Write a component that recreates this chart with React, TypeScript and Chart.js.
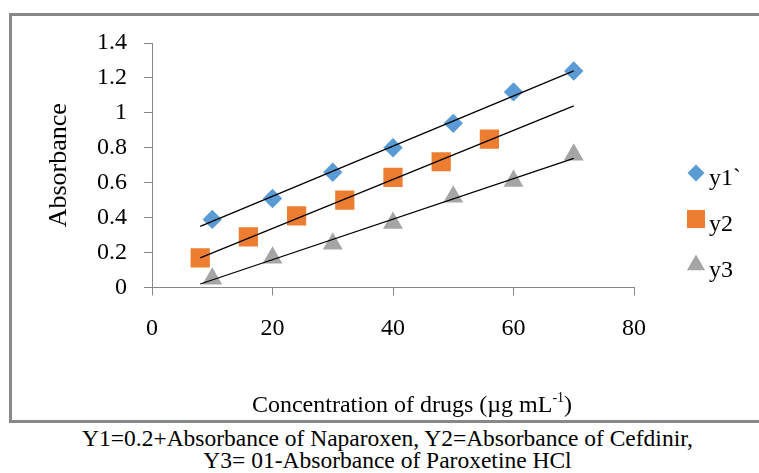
import React, { useEffect, useRef } from 'react';
import { Chart, registerables } from 'chart.js';
import { drawPoint } from 'chart.js/helpers';

Chart.register(...registerables);

// ---- data ----
const concY1Y3 = [10, 20, 30, 40, 50, 60, 70];
const concY2 = [8, 16, 24, 32, 40, 48, 56];
const y1Values = [0.39, 0.51, 0.66, 0.8, 0.94, 1.12, 1.24];
const y2Values = [0.17, 0.29, 0.41, 0.5, 0.63, 0.72, 0.85];
const y3Values = [0.05, 0.17, 0.25, 0.37, 0.52, 0.61, 0.76];
const trendX = [8, 70];
const trend1 = [0.35, 1.24];
const trend2 = [0.17, 1.04];
const trend3 = [0.02, 0.74];
const seriesLabels = ['y1`', 'y2', 'y3'];
const xTicks = [0, 20, 40, 60, 80];
const yTicks = [0, 0.2, 0.4, 0.6, 0.8, 1, 1.2, 1.4];
const yTitle = 'Absorbance';
const captionLine1 = 'Y1=0.2+Absorbance of Naparoxen, Y2=Absorbance of Cefdinir,';
const captionLine2 = 'Y3= 01-Absorbance of Paroxetine HCl';

const FONT = '"Liberation Serif", "Times New Roman", serif';
const BLUE = '#5B9BD5';
const ORANGE = '#ED7D31';
const GRAY = '#A5A5A5';
const AXIS = '#888888';

const pts = (xs: number[], ys: number[]) => xs.map((x, i) => ({ x, y: ys[i] }));

export default function App() {
  const ref = useRef<HTMLCanvasElement>(null);

  useEffect(() => {
    const canvas = ref.current;
    if (!canvas) return;

    const legendPlugin = {
      id: 'sideLegend',
      afterDraw(chart: any) {
        const ctx = chart.ctx;
        const cx = 696;
        const ys = [173, 219, 265];
        const radii = [8.5, 12.7, 10.5];
        ctx.save();
        seriesLabels.forEach((label, i) => {
          const ds = chart.data.datasets[i];
          ctx.fillStyle = ds.backgroundColor;
          drawPoint(ctx, { pointStyle: ds.pointStyle, radius: radii[i], rotation: 0, borderWidth: 0 } as any, cx, ys[i]);
          ctx.fillStyle = '#000';
          ctx.font = `24px ${FONT}`;
          ctx.textAlign = 'left';
          ctx.textBaseline = 'alphabetic';
          ctx.fillText(label, 709, ys[i] + 12);
        });
        ctx.restore();
      },
    };

    const chart = new Chart(canvas, {
      type: 'scatter',
      data: {
        datasets: [
          {
            label: seriesLabels[0],
            data: pts(concY1Y3, y1Values),
            pointStyle: 'rectRot',
            pointRadius: 9.7,
            backgroundColor: BLUE,
            borderColor: BLUE,
            borderWidth: 0,
            order: 2,
          },
          {
            label: seriesLabels[1],
            data: pts(concY2, y2Values),
            pointStyle: 'rect',
            pointRadius: 13.6,
            backgroundColor: ORANGE,
            borderColor: ORANGE,
            borderWidth: 0,
            order: 2,
          },
          {
            label: seriesLabels[2],
            data: pts(concY1Y3, y3Values),
            pointStyle: 'triangle',
            pointRadius: 11.5,
            backgroundColor: GRAY,
            borderColor: GRAY,
            borderWidth: 0,
            order: 2,
          },
          {
            label: 'trend1',
            data: pts(trendX, trend1),
            showLine: true,
            pointRadius: 0,
            borderColor: '#000',
            borderWidth: 1.3,
            order: 1,
          },
          {
            label: 'trend2',
            data: pts(trendX, trend2),
            showLine: true,
            pointRadius: 0,
            borderColor: '#000',
            borderWidth: 1.3,
            order: 1,
          },
          {
            label: 'trend3',
            data: pts(trendX, trend3),
            showLine: true,
            pointRadius: 0,
            borderColor: '#000',
            borderWidth: 1.3,
            order: 1,
          },
        ] as any,
      },
      options: {
        responsive: false,
        animation: false,
        events: [],
        layout: { padding: { left: 44, top: 43, right: 125, bottom: 11 } },
        plugins: {
          legend: { display: false },
          tooltip: { enabled: false },
        },
        scales: {
          x: {
            type: 'linear',
            position: 'bottom',
            min: xTicks[0],
            max: xTicks[xTicks.length - 1],
            afterBuildTicks: (s: any) => {
              s.ticks = xTicks.map((v) => ({ value: v }));
            },
            afterFit: (s: any) => {
              s.height = 126.5;
            },
            ticks: {
              font: { family: FONT, size: 24 },
              color: '#000',
              padding: 19,
              maxRotation: 0,
              autoSkip: false,
              callback: (v: any) => String(v),
            },
            grid: { drawOnChartArea: false, drawTicks: true, tickLength: 8, color: AXIS },
            border: { display: true, color: AXIS, width: 1 },
          },
          y: {
            type: 'linear',
            position: 'left',
            min: yTicks[0],
            max: yTicks[yTicks.length - 1],
            afterBuildTicks: (s: any) => {
              s.ticks = yTicks.map((v) => ({ value: v }));
            },
            afterFit: (s: any) => {
              s.width = 108;
            },
            ticks: {
              font: { family: FONT, size: 24 },
              color: '#000',
              padding: 17,
              callback: (v: any) => String(+Number(v).toFixed(1)),
            },
            grid: { drawOnChartArea: false, drawTicks: true, tickLength: 8, color: AXIS },
            border: { display: true, color: AXIS, width: 1 },
            title: {
              display: true,
              text: yTitle,
              font: { family: FONT, size: 26 },
              color: '#000',
              padding: 0,
            },
          },
        },
      } as any,
      plugins: [legendPlugin],
    });

    return () => chart.destroy();
  }, []);

  return (
    <div
      style={{
        position: 'fixed',
        left: 0,
        top: 0,
        width: 759,
        height: 473,
        overflow: 'hidden',
        background: '#fff',
      }}
    >
      <div
        style={{
          position: 'absolute',
          left: 9,
          top: 13,
          width: 770,
          height: 410,
          boxSizing: 'border-box',
          border: '3px solid #888',
        }}
      />
      <canvas
        ref={ref}
        width={759}
        height={425}
        style={{ position: 'absolute', left: 0, top: 0, width: 759, height: 425 }}
      />
      <div
        style={{
          position: 'absolute',
          left: 412,
          top: 392,
          transform: 'translateX(-50%)',
          whiteSpace: 'nowrap',
          fontFamily: FONT,
          fontSize: 24,
          lineHeight: '24px',
          color: '#000',
        }}
      >
        Concentration of drugs (µg mL
        <span style={{ fontSize: 14, position: 'relative', top: -10, lineHeight: '14px' }}>-1</span>)
      </div>
      <div
        style={{
          position: 'absolute',
          left: 0,
          top: 428,
          width: 775,
          textAlign: 'center',
          fontFamily: FONT,
          fontSize: 23.5,
          lineHeight: '21.6px',
          color: '#000',
          whiteSpace: 'nowrap',
        }}
      >
        <div>{captionLine1}</div>
        <div>{captionLine2}</div>
      </div>
    </div>
  );
}
